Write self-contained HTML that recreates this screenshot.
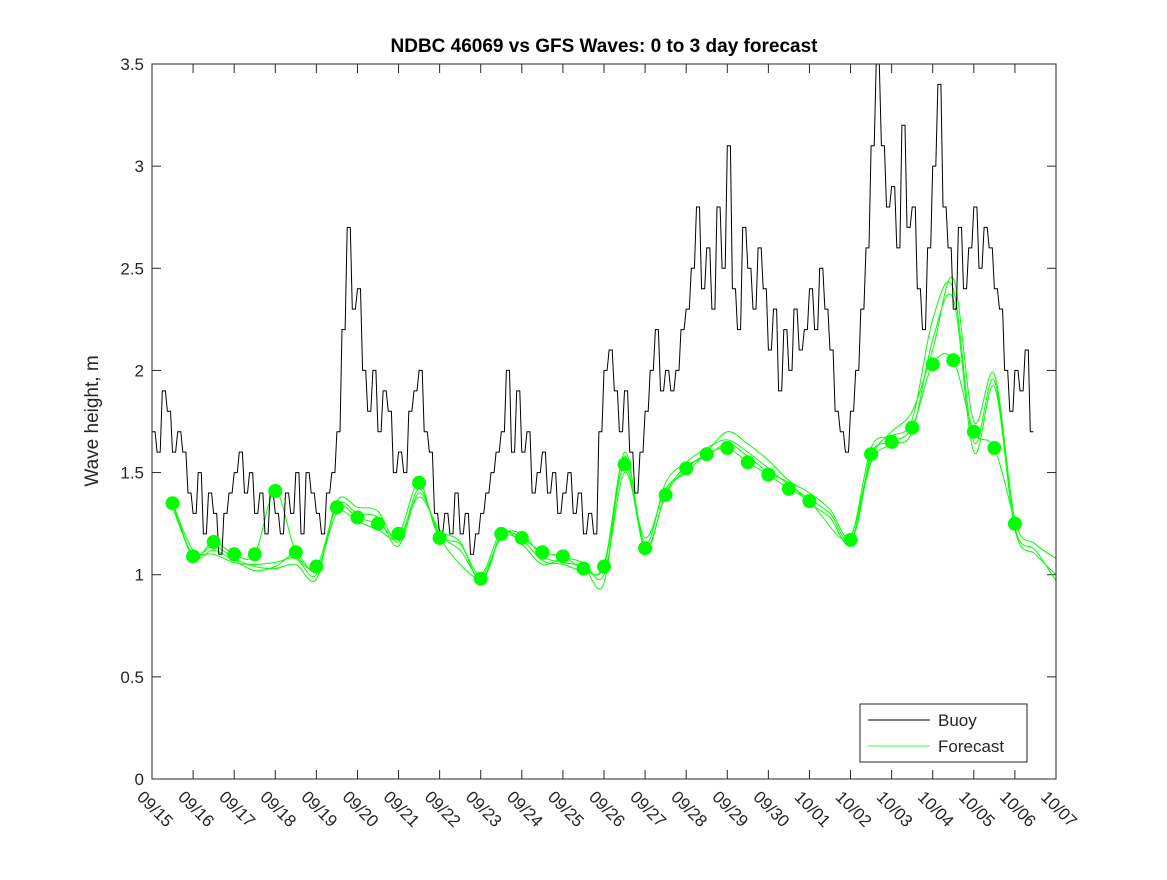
<!DOCTYPE html>
<html><head><meta charset="utf-8"><style>
body{margin:0;background:#fff;}
svg text{font-family:"Liberation Sans","DejaVu Sans",sans-serif;}
</style></head><body>
<svg id="chart" width="1167" height="875" xmlns="http://www.w3.org/2000/svg">
<rect width="1167" height="875" fill="#fff"/>
<text x="604" y="52" text-anchor="middle" font-size="19" font-weight="bold">NDBC 46069 vs GFS Waves: 0 to 3 day forecast</text>
<text transform="translate(98,421) rotate(-90)" text-anchor="middle" font-size="19" fill="#262626">Wave height, m</text>
<g id="axes"></g>
<g id="series"></g>
<rect x="152" y="64" width="904" height="715" fill="none" stroke="#262626" stroke-width="1"/>
<g>
<rect x="860" y="704" width="167" height="58" fill="#fff" stroke="#262626"/>
<line x1="868" y1="720" x2="930" y2="720" stroke="#000"/>
<text x="938" y="726" font-size="17" fill="#262626">Buoy</text>
<line x1="868" y1="746" x2="930" y2="746" stroke="#00ff00" stroke-width="0.8"/>
<text x="938" y="752" font-size="17" fill="#262626">Forecast</text>
</g>
</svg>
<script>
const dateLabels=["09/15","09/16","09/17","09/18","09/19","09/20","09/21","09/22","09/23","09/24","09/25","09/26","09/27","09/28","09/29","09/30","10/01","10/02","10/03","10/04","10/05","10/06","10/07"];
const yTicks=[0,0.5,1,1.5,2,2.5,3,3.5];
const yTickLabels=["0","0.5","1","1.5","2","2.5","3","3.5"];
const buoyValues=[1.7,1.6,1.9,1.8,1.6,1.7,1.6,1.4,
1.3,1.5,1.2,1.4,1.3,1.1,1.3,1.4,
1.5,1.6,1.4,1.5,1.3,1.4,1.2,1.4,
1.3,1.2,1.4,1.3,1.5,1.2,1.5,1.4,
1.3,1.2,1.4,1.5,1.7,2.2,2.7,2.3,
2.4,2.0,1.8,2.0,1.7,1.9,1.8,1.5,
1.6,1.5,1.8,1.9,2.0,1.7,1.6,1.3,
1.2,1.3,1.2,1.4,1.2,1.3,1.1,1.2,
1.3,1.4,1.5,1.6,1.7,2.0,1.6,1.9,
1.6,1.7,1.4,1.5,1.6,1.4,1.5,1.3,
1.4,1.5,1.3,1.4,1.2,1.3,1.2,1.7,
2.0,2.1,1.9,1.7,1.9,1.6,1.4,1.6,
1.8,2.0,2.2,1.9,2.0,1.9,2.0,2.2,
2.3,2.5,2.8,2.4,2.6,2.3,2.8,2.5,
3.1,2.4,2.2,2.7,2.5,2.3,2.6,2.4,
2.1,2.3,1.9,2.2,2.0,2.3,2.1,2.2,
2.4,2.2,2.5,2.3,2.1,1.8,1.7,1.6,
1.8,2.0,2.3,2.6,3.1,3.5,3.1,2.8,
2.9,2.6,3.2,2.7,2.8,2.4,2.2,2.6,
3.0,3.4,2.8,2.6,2.3,2.7,2.4,2.6,
2.8,2.5,2.7,2.6,2.4,2.3,2.0,1.8,
2.0,1.9,2.1,1.7];
const buoyStep=0.125;
const dotDays=[0.5,1,1.5,2,2.5,3,3.5,4,4.5,5,5.5,6,6.5,7,8,8.5,9,9.5,10,10.5,11,11.5,12,12.5,13,13.5,14,14.5,15,15.5,16,17,17.5,18,18.5,19,19.5,20,20.5,21];
const dotValues=[1.35,1.09,1.16,1.10,1.10,1.41,1.11,1.04,1.33,1.28,1.25,1.20,1.45,1.18,0.98,1.20,1.18,1.11,1.09,1.03,1.04,1.54,1.13,1.39,1.52,1.59,1.62,1.55,1.49,1.42,1.36,1.17,1.59,1.65,1.72,2.03,2.05,1.70,1.62,1.25];
const fcA_days=[0.5,1,1.5,2,2.5,3,3.5,4,4.5,5,5.5,6,6.5,7,7.5,8,8.5,9,9.5,10,10.5,11,11.5,12,12.5,13,13.5,14,14.5,15,15.5,16,16.5,17,17.5,18,18.5,19,19.5,20,20.5,21,21.5,22];
const fcA=[1.35,1.12,1.10,1.06,1.05,1.06,1.08,1.00,1.34,1.30,1.28,1.14,1.40,1.20,1.12,0.99,1.18,1.17,1.07,1.05,1.02,1.05,1.58,1.15,1.45,1.55,1.62,1.66,1.60,1.52,1.44,1.37,1.30,1.18,1.62,1.68,1.76,2.25,2.40,1.65,1.95,1.22,1.10,1.00];
const fcB=[1.33,1.10,1.14,1.08,1.04,1.03,1.05,0.98,1.36,1.33,1.31,1.16,1.42,1.19,1.15,1.00,1.21,1.15,1.05,1.08,1.06,1.00,1.50,1.18,1.42,1.50,1.60,1.70,1.64,1.56,1.46,1.40,1.32,1.19,1.57,1.70,1.80,2.10,2.45,1.75,1.98,1.27,1.15,1.08];
const fcC=[1.36,1.09,1.12,1.07,1.02,1.04,1.10,1.02,1.30,1.26,1.22,1.18,1.38,1.22,1.16,0.97,1.19,1.20,1.09,1.06,1.04,0.96,1.60,1.12,1.40,1.53,1.58,1.64,1.58,1.50,1.45,1.35,1.28,1.16,1.55,1.64,1.70,2.15,2.35,1.60,1.92,1.23,1.12,0.97];
const NS="http://www.w3.org/2000/svg";
const X0=152,X1=1056,Y0=779,Y1=64,DAYS=22,YMAX=3.5;
function xs(d){return X0+(X1-X0)*d/DAYS;}
function ys(v){return Y0-(Y0-Y1)*v/YMAX;}
function mk(tag,attrs,parent){const e=document.createElementNS(NS,tag);for(const k in attrs)e.setAttribute(k,attrs[k]);parent.appendChild(e);return e;}
const axes=document.getElementById('axes'),ser=document.getElementById('series');
yTicks.forEach((v,i)=>{
 const t=mk('line',{x1:X0,x2:X0+9,y1:ys(v),y2:ys(v),stroke:'#262626'},axes);
 
 
 const t2=mk('line',{x1:X1-9,x2:X1,y1:ys(v),y2:ys(v),stroke:'#262626'},axes);
 
 
 const l=mk('text',{x:X0-8,y:ys(v)+6,'text-anchor':'end','font-size':'17',fill:'#262626'},axes);
 l.textContent=yTickLabels[i];
 
 
});
dateLabels.forEach((s,i)=>{
 const x=xs(i);
 const t=mk('line',{x1:x,x2:x,y1:Y0,y2:Y0-9,stroke:'#262626'},axes);
 
 
 const t2=mk('line',{x1:x,x2:x,y1:Y1,y2:Y1+9,stroke:'#262626'},axes);
 
 
 const l=mk('text',{transform:`translate(${x-16},${Y0+19}) rotate(45)`,'font-size':'17',fill:'#262626'},axes);
 l.textContent=s;
 
 
});
function poly(days,vals,attrs,name){
 const p=mk('polyline',Object.assign({fill:'none',points:vals.map((v,i)=>xs(days[i]).toFixed(1)+','+ys(v).toFixed(1)).join(' ')},attrs),ser);
 
 
}
function smooth(days,vals,attrs,name){
 const P=vals.map((v,i)=>[xs(days[i]),ys(v)]);
 let d='M'+P[0][0].toFixed(1)+','+P[0][1].toFixed(1);
 for(let i=0;i<P.length-1;i++){
  const p0=P[Math.max(0,i-1)],p1=P[i],p2=P[i+1],p3=P[Math.min(P.length-1,i+2)];
  const c1=[p1[0]+(p2[0]-p0[0])/6,p1[1]+(p2[1]-p0[1])/6];
  const c2=[p2[0]-(p3[0]-p1[0])/6,p2[1]-(p3[1]-p1[1])/6];
  d+=` C${c1[0].toFixed(1)},${c1[1].toFixed(1)} ${c2[0].toFixed(1)},${c2[1].toFixed(1)} ${p2[0].toFixed(1)},${p2[1].toFixed(1)}`;
 }
 const p=mk('path',Object.assign({fill:'none',d:d},attrs),ser);
 
 
}
[fcA,fcB,fcC].forEach((f,k)=>smooth(fcA_days,f,{stroke:'#00ff00','stroke-width':'1'},'forecast-run-'+(k+1)));
smooth(dotDays,dotValues,{stroke:'#00ff00','stroke-width':'1'},'forecast-analysis-line');
const bd=[],bv=[];
buoyValues.forEach((v,i)=>{bd.push(i*buoyStep);bv.push(v);bd.push(i*buoyStep+buoyStep*0.6);bv.push(v);});
poly(bd,bv,{stroke:'#000','stroke-width':'1'},'buoy-line');
dotDays.forEach((d,i)=>{
 const c=mk('circle',{cx:xs(d),cy:ys(dotValues[i]),r:7,fill:'#00ff00'},ser);
 
 
});
</script>
</body></html>
